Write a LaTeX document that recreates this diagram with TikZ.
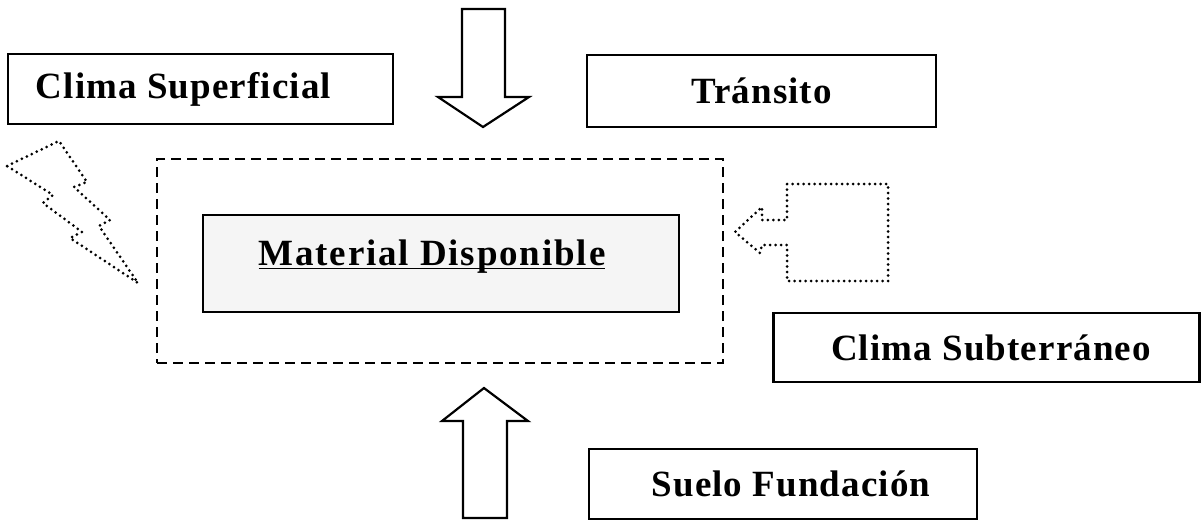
\documentclass[tikz,border=0pt]{standalone}
\usepackage{fontspec}
\setmainfont{Liberation Serif}[LetterSpace=3]
\newfontfamily\mdfont{Liberation Serif}[LetterSpace=5]
\newcommand{\thickul}[1]{{\setbox0\hbox{#1}\rlap{\rule[-4pt]{\wd0}{1.8pt}}\box0}}
\begin{document}
\begin{tikzpicture}[x=1pt,y=-1pt,
  lbl/.style={draw=black, line width=2.2pt, inner sep=0pt, font=\fontsize{37}{42}\selectfont\bfseries},
  dashbox/.style={draw=black, line width=2.6pt, dash pattern=on 10pt off 6pt},
  dotline/.style={draw=black, line width=3pt, line cap=round, dash pattern=on 0pt off 5.5pt},
  blockarrow/.style={draw=black, line width=2.2pt, fill=white, line join=miter}]
\useasboundingbox (0,0) rectangle (1204,522);
% boxes
\node[lbl, minimum width=385pt, minimum height=70pt] (cs) at (200.5,89) {Clima Superficial\kern34pt\null};
\node[lbl, minimum width=349pt, minimum height=72pt] (tr) at (761.5,91) {Tránsito};
\node[lbl, minimum width=426pt, minimum height=69pt] (csub) at (986.5,347.5) {\kern9pt Clima Subterráneo};
\node[lbl, minimum width=388pt, minimum height=70pt] (sf) at (783,484) {\kern16pt Suelo Fundación};
\node[dashbox, minimum width=566pt, minimum height=204pt] (env) at (440,261) {};
\node[lbl, fill=black!4, minimum width=476pt, minimum height=97pt] (md) at (441,263.5) {\raisebox{22pt}{\mdfont\thickul{Material Disponible}}\kern18pt\null};
% down arrow
\draw[blockarrow] (462,9) -- (505,9) -- (505,97) -- (529,97) -- (483,127) -- (438,97) -- (462,97) -- cycle;
% up arrow
\draw[blockarrow] (463,518) -- (507,518) -- (507,421) -- (528,421) -- (484,388) -- (442,421) -- (463,421) -- cycle;
% lightning bolt
\draw[dotline] (7,166) -- (59,141) -- (87,182) -- (74,187) -- (110,220) -- (99,226) -- (138,283)
  -- (70,238) -- (82,232) -- (43,203) -- (53,195) -- cycle;
% dotted arrow from the right
\draw[dotline] (787,184) -- (888,184) -- (888,281) -- (787,281) -- (787,245) -- (762,245) -- (760,253)
  -- (735,232) -- (762,207) -- (762,220) -- (787,220) -- cycle;
\end{tikzpicture}
\end{document}
